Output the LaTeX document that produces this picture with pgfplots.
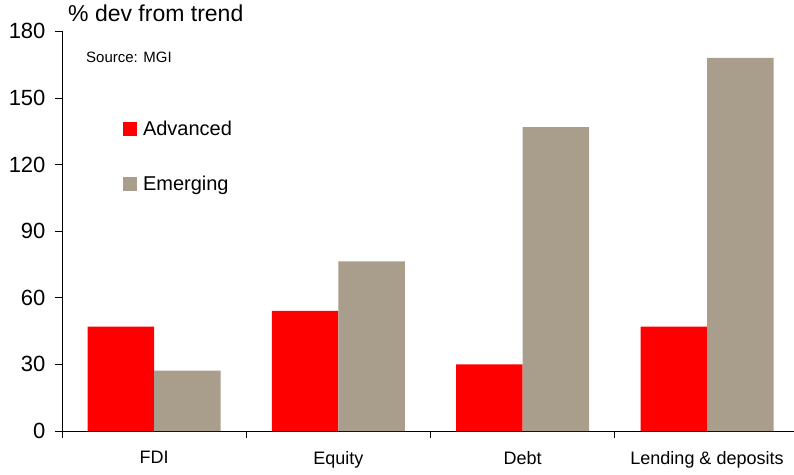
\documentclass[border=0pt]{standalone}
\usepackage{fontspec}
\setmainfont{Liberation Sans}
\usepackage{pgfplots}
\pgfplotsset{compat=1.18}
\definecolor{adv}{RGB}{255,0,0}
\definecolor{emg}{RGB}{169,157,140}
\begin{document}
\begin{tikzpicture}[x=1pt,y=1pt]
\path[use as bounding box] (0,0) rectangle (794,474);
\begin{axis}[
  at={(62pt,43pt)}, anchor=south west,
  scale only axis, width=732pt, height=399.7pt,
  xmin=-0.5, xmax=3.472, ymin=0, ymax=180,
  axis x line*=bottom, axis y line*=left,
  axis line style={black, line width=0.9pt},
  ytick={0,30,...,180},
  xtick={-0.5,0.5,1.5,2.5}, xticklabels={},
  extra x ticks={0,1,2,3},
  extra x tick labels={FDI,Equity,Debt,Lending \& deposits},
  extra x tick style={major tick length=0pt, xticklabel style={yshift=-17pt}},
  tick align=outside,
  major tick length=7pt,
  tick style={black, line width=0.8pt},
  /pgf/number format/assume math mode=true,
  yticklabel style={font=\fontsize{22}{26}\selectfont, xshift=-6pt},
  xticklabel style={font=\fontsize{18}{22}\selectfont},
  ybar=0pt, bar width=66.5pt,
  legend style={draw=none, fill=none, at={(axis description cs:0.079,0.785)}, anchor=north west,
    font=\fontsize{20}{24}\selectfont, row sep=35pt},
  legend cell align=left,
  legend image code/.code={\fill[#1] (0pt,-7pt) rectangle (14pt,7pt); \path (18pt,0pt);},
]
\addplot[fill=adv, draw=none] coordinates {(0,47.05) (1,54.1) (2,30.0) (3,47.05)};
\addplot[fill=emg, draw=none] coordinates {(0,27.2) (1,76.4) (2,136.8) (3,168.0)};
\legend{Advanced,Emerging}
\end{axis}
\node[anchor=base west, font=\fontsize{23}{27}\selectfont, inner sep=0pt] at (68,452) {\% dev from trend};
\node[anchor=base west, font=\fontsize{15}{18}\selectfont, inner sep=0pt] at (86,411.3) {Source: MGI};
\end{tikzpicture}
\end{document}
